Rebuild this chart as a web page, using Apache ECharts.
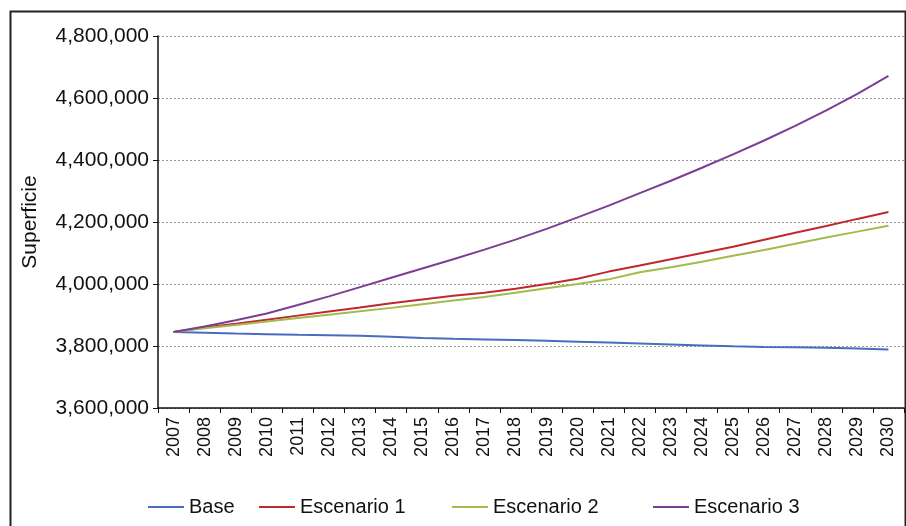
<!DOCTYPE html>
<html>
<head>
<meta charset="utf-8">
<script src="https://cdn.jsdelivr.net/npm/echarts@6/dist/echarts.min.js"></script>
<style>html,body{margin:0;padding:0;background:#fff;}#c{width:906px;height:526px;}</style>
</head>
<body>
<div id="c"></div>
<script>
var years = ['2007','2008','2009','2010','2011','2012','2013','2014','2015','2016','2017','2018','2019','2020','2021','2022','2023','2024','2025','2026','2027','2028','2029','2030'];
var base = [3845000,3843000,3840000,3838000,3836000,3835000,3833000,3830000,3826000,3823000,3821000,3819000,3817000,3814000,3811000,3808000,3805000,3802000,3799000,3797000,3796000,3794000,3792000,3789000];
var escenario1 = [3845000,3860000,3872000,3885000,3898000,3911000,3924000,3938000,3950000,3962000,3972000,3985000,4000000,4017000,4040000,4060000,4080000,4100000,4120000,4143000,4165000,4187000,4210000,4232000];
var escenario2 = [3845000,3857000,3868000,3879000,3890000,3901000,3912000,3923000,3935000,3947000,3958000,3972000,3986000,4000000,4015000,4038000,4054000,4072000,4091000,4110000,4130000,4150000,4169000,4188000];
var escenario3 = [3845000,3863000,3883000,3905000,3932000,3960000,3990000,4020000,4050000,4080000,4111000,4143000,4178000,4215000,4253000,4293000,4333000,4375000,4418000,4463000,4510000,4560000,4613000,4671000];
var seriesNames = ['Base','Escenario 1','Escenario 2','Escenario 3'];
var colors = ['#4a6cc0','#c0282f','#a2bb4a','#7a3f94'];
var yName = 'Superficie';

var chart = echarts.init(document.getElementById('c'), null, {renderer:'canvas'});
var font = 'Liberation Sans, Arial, sans-serif';
var legendLefts = [143, 254, 447, 648];
var dataSets = [base, escenario1, escenario2, escenario3];

chart.setOption({
  animation: false,
  backgroundColor: '#fff',
  graphic: [{
    type: 'rect', left: 8, top: 9, z: -1,
    shape: {x: 0, y: 0, width: 895, height: 560},
    style: {fill: 'none', stroke: '#222', lineWidth: 2}
  }],
  legend: seriesNames.map(function(n, i){
    return {
      data: [n], left: legendLefts[i], top: 492,
      icon: 'rect', itemWidth: 36, itemHeight: 2, itemGap: 6,
      textStyle: {fontFamily: font, fontSize: 20, color: '#111'}
    };
  }),
  grid: {left: 158, right: 2, top: 36, bottom: 118, containLabel: false},
  xAxis: {
    type: 'category', data: years, boundaryGap: true,
    axisLine: {lineStyle: {color: '#111', width: 1.5}},
    axisTick: {show: true, length: 5, lineStyle: {color: '#111'}},
    axisLabel: {rotate: 90, fontFamily: font, fontSize: 18, color: '#111', margin: 9}
  },
  yAxis: {
    type: 'value', min: 3600000, max: 4800000, interval: 200000,
    name: yName, nameLocation: 'middle', nameGap: 117, nameRotate: 90,
    nameTextStyle: {fontFamily: font, fontSize: 21, color: '#111'},
    axisLine: {show: true, lineStyle: {color: '#111', width: 1.5}},
    axisTick: {show: true, length: 5, lineStyle: {color: '#111'}},
    axisLabel: {fontFamily: font, fontSize: 21, color: '#111', margin: 9,
      formatter: function(v){ return Number(v).toLocaleString('en-US'); }},
    splitLine: {show: true, lineStyle: {color: '#9a9a9a', type: [2, 2], width: 1}}
  },
  series: seriesNames.map(function(n, i){
    return {
      name: n, type: 'line', data: dataSets[i], showSymbol: false, symbol: 'none',
      color: colors[i], lineStyle: {width: 2, color: colors[i]}
    };
  })
});
</script>
</body>
</html>
